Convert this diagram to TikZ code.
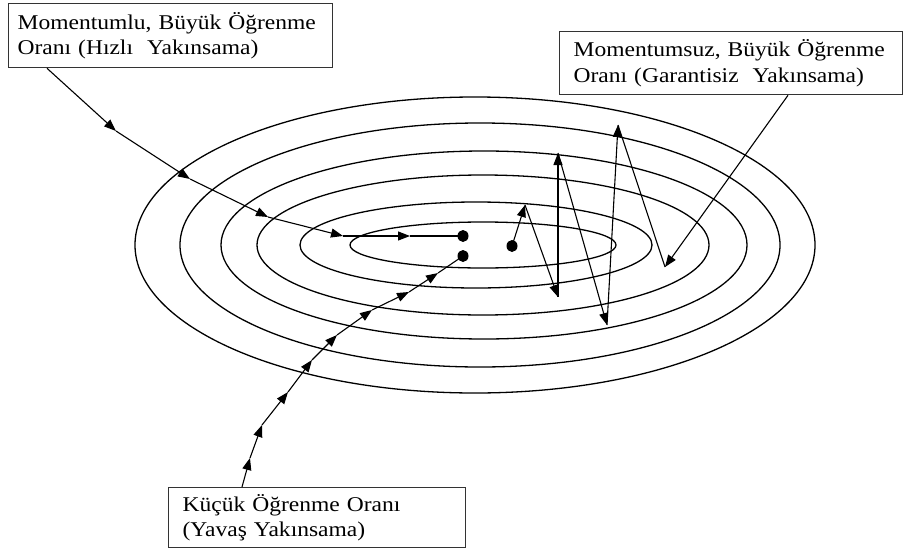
\documentclass[tikz,border=0pt]{standalone}
\usepackage{fontspec}
\setmainfont{Liberation Serif}[FakeStretch=1.12]
\usetikzlibrary{arrows.meta,positioning,calc}

\begin{document}
\begin{tikzpicture}[x=1pt,y=-1pt,
  kutu/.style={draw=black!80,line width=1.3pt,rectangle,anchor=north west,align=left,
    inner xsep=14pt,inner ysep=0pt,font=\fontsize{21}{25.5}\selectfont},
  adim/.style={line width=1.1pt,-{Triangle[length=12pt,width=9pt]}},
  cizgi/.style={line width=1.1pt}]
\useasboundingbox (0,0) rectangle (909,551);
\foreach \cx/\rx/\ry in {475/340/148, 480/300/122, 484/263/94, 483/226/70, 476/176/43, 483/133/23}
  \draw[cizgi,line width=1.3pt] (\cx,245) ellipse [x radius=\rx pt, y radius=\ry pt];
\node[kutu,inner xsep=9pt,text width=306pt,minimum height=64pt] (hizli) at (8,3)
  {Momentumlu, Büyük Öğrenme\\Oranı (Hızlı\ \ Yakınsama)};
\node[kutu,text width=315pt,minimum height=63pt] (garantisiz) at (559,31)
  {Momentumsuz, Büyük Öğrenme\\Oranı (Garantisiz\ \ Yakınsama)};
\node[kutu,text width=269pt,minimum height=60pt] (yavas) at (168,487)
  {Küçük Öğrenme Oranı\\(Yavaş Yakınsama)};
\coordinate (d1) at (463,236);
\coordinate (d2) at (463,256);
\coordinate (d3) at (512,246);
\coordinate (h0) at ($(hizli.south west)+(39,0)$);
\coordinate (h1) at (116,131);
\coordinate (h2) at (190,179);
\coordinate (h3) at (268,217);
\coordinate (h4) at (343,236);
\coordinate (h5) at (410,236);
\foreach \a/\b in {h0/h1,h1/h2,h2/h3,h3/h4,h4/h5}
  \draw[adim] (\a) -- (\b);
\draw[cizgi] (h5) -- (d1);
\coordinate (y0) at ($(yavas.north west)+(74,0)$);
\coordinate (y1) at (250,458);
\coordinate (y2) at (262,425);
\coordinate (y3) at (288,392);
\coordinate (y4) at (312,360);
\coordinate (y5) at (337,335);
\coordinate (y6) at (372,310);
\coordinate (y7) at (409,292);
\coordinate (y8) at (438,273);
\foreach \a/\b in {y0/y1,y1/y2,y2/y3,y3/y4,y4/y5,y5/y6,y6/y7,y7/y8}
  \draw[adim] (\a) -- (\b);
\draw[cizgi] (y8) -- (d2);
\coordinate (z1) at (525,205);
\coordinate (z2) at (558,297);
\coordinate (z3) at (558,153);
\coordinate (z4) at (607,325);
\coordinate (z5) at (618,125);
\coordinate (z6) at (665,267);
\foreach \a/\b in {d3/z1,z1/z2,z2/z3,z3/z4,z4/z5}
  \draw[adim] (\a) -- (\b);
\draw[cizgi] (z5) -- (z6);
\coordinate (g0) at ($(garantisiz.south west)+(229,0)$);
\draw[adim] (g0) -- (z6);
\foreach \d in {d1,d2,d3}
  \fill (\d) circle [x radius=5.5pt, y radius=6pt];
\end{tikzpicture}
\end{document}
